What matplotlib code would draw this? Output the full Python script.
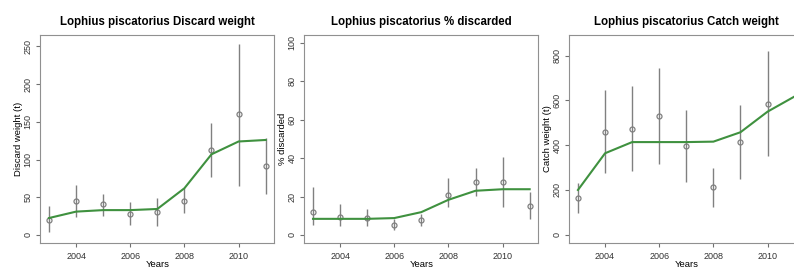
import numpy as np
import matplotlib
matplotlib.use("Agg")
import matplotlib.pyplot as plt

plt.rcParams["font.family"] = ["Liberation Sans", "DejaVu Sans"]

years = [2003, 2004, 2005, 2006, 2007, 2008, 2009, 2010, 2011]
nan = np.nan

# Discard weight (t)
discard_obs = [20, 45, 41, 28, 31, 45, 113, 160, 92]
discard_lo = [4, 24, 25, 13.5, 12, 29, 77, 65, 54]
discard_hi = [38, 66, 55, 44, 49, 62, 148, 253, 129]
discard_fit = [22.5, 31, 33, 33, 34.5, 62, 107, 124, 126]

# % discarded
pct_obs = [11.9, 9.6, 8.6, 5.3, 7.9, 21, 27.5, 27.3, 15.2]
pct_lo = [5.3, 4.8, 4.8, 2.7, 4.5, 14.5, 20.4, 14.5, 8.4]
pct_hi = [24.7, 16.2, 13.5, 8.4, 10.9, 29.5, 35, 40.4, 22.6]
pct_fit = [8.4, 8.4, 8.4, 8.8, 11.9, 18.3, 23, 23.8, 23.8]

# Catch weight (t)
catch_obs = [165, 459, 474, 532, 396, 213, 414, 586, nan]
catch_lo = [98, 274, 283, 317, 237, 125, 248, 352, nan]
catch_hi = [232, 645, 666, 745, 556, 300, 580, 823, nan]
catch_fit = [200, 364, 414, 414, 414, 416, 458, 550, 618]

panels = [
    ("Lophius piscatorius Discard weight", "Discard weight (t)",
     discard_obs, discard_lo, discard_hi, discard_fit, (-10.2, 265.2), [0, 50, 100, 150, 200, 250]),
    ("Lophius piscatorius % discarded", "% discarded",
     pct_obs, pct_lo, pct_hi, pct_fit, (-4, 104), [0, 20, 40, 60, 80, 100]),
    ("Lophius piscatorius Catch weight", "Catch weight (t)",
     catch_obs, catch_lo, catch_hi, catch_fit, (-35.7, 892.7), [0, 200, 400, 600, 800]),
]

fig = plt.figure(figsize=(7.94, 2.69), dpi=100)
lefts = [0.0508, 0.3833, 0.7170]
for left, (title, ylab, obs, lo, hi, fit, ylim, yt) in zip(lefts, panels):
    ax = fig.add_axes([left, 0.0978, 0.2947, 0.7721])
    ax.vlines(years, lo, hi, color="#808080", linewidth=1.0)
    ax.plot(years, obs, "o", mfc="none", mec="#808080", ms=3.6, mew=0.9)
    ax.plot(years, fit, color="#3f913f", linewidth=1.5)
    ax.set_xlim(2003 - 0.32, 2011 + 0.32)
    ax.set_ylim(*ylim)
    ax.set_xticks([2004, 2006, 2008, 2010])
    ax.set_yticks(yt)
    ax.tick_params(direction="out", length=3, width=0.8, color="#707070",
                   labelsize=6.5, labelcolor="#333333", pad=4)
    ax.tick_params(axis="y", labelrotation=90, pad=2.5)
    plt.setp(ax.get_yticklabels(), va="center")
    for s in ax.spines.values():
        s.set_color("#909090")
        s.set_linewidth(0.8)
    ax.set_title(title, fontsize=8.3, fontweight="bold", pad=7)
    ax.set_ylabel(ylab, fontsize=6.8)
    ax.yaxis.set_label_coords(-0.074, 0.5)
    ax.set_xlabel("Years", fontsize=6.8)
    ax.xaxis.set_label_coords(0.5, -0.085)

fig.savefig("out.png", dpi=100)
